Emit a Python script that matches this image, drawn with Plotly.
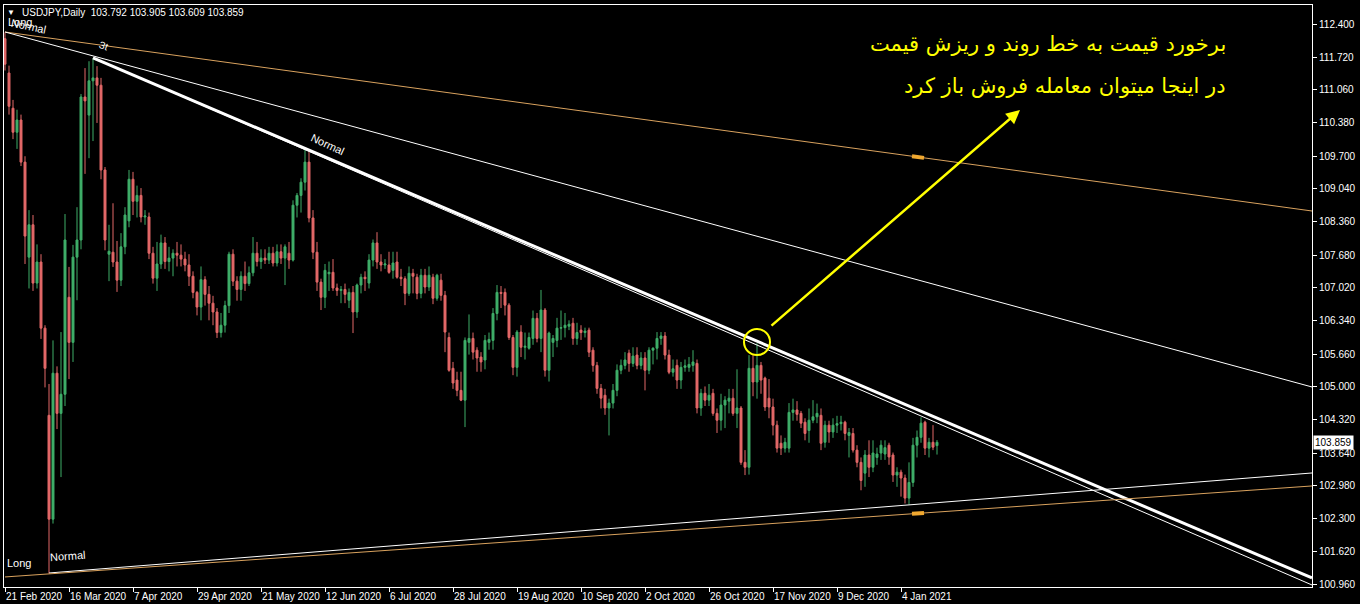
import pandas as pd
import plotly.graph_objects as go

# ---------------- data ----------------
holidays = ["2020-12-25", "2021-01-01"]
dates = [d for d in pd.bdate_range("2020-02-21", "2021-01-15") if d.strftime("%Y-%m-%d") not in holidays]

opens = [
    112.10, 111.40, 110.68, 110.19, 110.44, 109.58, 107.64, 108.30, 107.11, 107.54,
    106.19, 104.41, 102.29, 105.27, 104.45, 104.84, 106.82, 105.90, 107.64, 107.99,
    110.91, 110.54, 111.24, 111.30, 111.15, 109.42, 107.70, 107.74, 107.54, 107.17,
    107.85, 108.38, 109.23, 108.78, 108.90, 108.46, 108.46, 107.72, 107.21, 107.50,
    107.93, 107.55, 107.62, 107.72, 107.68, 107.60, 107.48, 107.25, 106.92, 106.62,
    107.18, 106.88, 106.70, 106.52, 106.10, 106.25, 106.65, 107.70, 107.15, 106.98,
    107.25, 107.10, 107.32, 107.72, 107.55, 107.62, 107.58, 107.72, 107.52, 107.75,
    107.62, 107.72, 107.58, 108.70, 108.90, 109.17, 109.58, 108.44, 107.74, 107.13,
    106.82, 107.30, 107.33, 107.01, 106.96, 106.98, 106.76, 106.92, 106.52, 107.07,
    107.23, 107.11, 107.58, 107.93, 107.54, 107.48, 107.48, 107.37, 107.54, 107.23,
    107.20, 106.90, 107.31, 107.23, 106.90, 107.27, 107.03, 107.23, 106.80, 107.17,
    106.86, 106.00, 105.37, 105.13, 104.92, 104.72, 105.90, 105.98, 105.74, 105.60,
    105.54, 105.90, 105.94, 106.49, 106.92, 106.92, 106.66, 106.00, 105.39, 106.11,
    105.80, 105.78, 105.98, 106.39, 105.98, 106.56, 105.33, 105.90, 105.94, 106.19,
    106.20, 106.23, 106.29, 105.98, 106.15, 106.10, 106.15, 105.74, 105.43, 104.96,
    104.82, 104.56, 104.66, 104.92, 105.33, 105.43, 105.68, 105.47, 105.64, 105.43,
    105.58, 105.33, 105.74, 105.78, 105.98, 106.03, 105.64, 105.29, 105.43, 105.13,
    105.39, 105.39, 105.43, 105.47, 104.56, 104.86, 104.72, 104.86, 104.45, 104.31,
    104.62, 104.70, 104.76, 104.45, 104.56, 103.45, 103.35, 105.37, 105.09, 105.43,
    105.17, 104.76, 104.58, 104.21, 103.84, 103.74, 103.74, 104.47, 104.52, 104.45,
    104.27, 104.10, 104.31, 104.38, 104.41, 103.86, 104.21, 104.07, 104.21, 104.24,
    104.27, 104.00, 104.04, 103.70, 103.45, 103.23, 103.60, 103.35, 103.55, 103.64,
    103.62, 103.80, 103.60, 103.19, 103.25, 103.13, 102.72, 103.04, 103.80, 103.96,
    104.27, 103.74, 103.86, 103.792,
]
highs = [
    112.23, 111.55, 110.85, 110.65, 110.55, 109.70, 108.60, 108.50, 107.90, 107.70,
    106.25, 105.05, 105.94, 105.41, 106.11, 108.52, 107.44, 107.89, 108.66, 110.97,
    111.50, 111.64, 111.70, 111.54, 111.30, 109.48, 108.30, 108.74, 107.97, 108.13,
    108.66, 109.42, 109.38, 109.10, 109.05, 108.60, 108.55, 107.85, 107.95, 108.10,
    108.05, 107.85, 107.80, 107.95, 107.90, 107.75, 107.70, 107.35, 106.95, 107.45,
    107.25, 107.05, 106.85, 106.60, 106.50, 106.75, 107.75, 107.80, 107.25, 107.35,
    107.55, 107.45, 108.05, 107.95, 107.80, 107.80, 107.85, 107.85, 107.90, 107.90,
    107.90, 107.95, 108.80, 108.95, 109.25, 109.83, 109.80, 108.60, 107.95, 107.20,
    107.50, 107.55, 107.60, 107.10, 107.05, 107.10, 107.00, 107.05, 107.10, 107.30,
    107.35, 107.70, 108.00, 108.15, 107.70, 107.60, 107.75, 107.75, 107.75, 107.40,
    107.25, 107.45, 107.40, 107.30, 107.40, 107.40, 107.45, 107.30, 107.30, 107.30,
    106.95, 106.10, 105.50, 105.30, 105.30, 106.00, 106.47, 106.10, 105.80, 105.70,
    106.05, 106.10, 106.60, 107.07, 107.05, 107.00, 106.70, 106.05, 106.15, 106.25,
    106.10, 106.10, 106.55, 106.50, 106.97, 106.60, 106.12, 106.05, 106.40, 106.55,
    106.50, 106.35, 106.40, 106.30, 106.25, 106.20, 106.20, 105.80, 105.50, 105.05,
    104.95, 104.75, 105.05, 105.45, 105.55, 105.70, 105.75, 105.80, 105.80, 105.70,
    105.70, 105.80, 105.80, 106.11, 106.11, 106.11, 105.75, 105.55, 105.55, 105.50,
    105.55, 105.60, 105.74, 105.55, 104.95, 105.00, 105.05, 104.95, 104.55, 104.85,
    104.80, 104.95, 104.95, 105.35, 104.60, 103.70, 105.64, 105.65, 105.88, 105.50,
    105.20, 105.15, 104.75, 104.30, 104.00, 103.95, 104.66, 104.75, 104.70, 104.50,
    104.35, 104.55, 104.72, 104.65, 104.55, 104.30, 104.30, 104.35, 104.40, 104.40,
    104.30, 104.15, 104.15, 103.80, 103.55, 103.70, 103.90, 103.90, 103.75, 103.90,
    103.90, 103.85, 103.65, 103.35, 103.30, 103.20, 103.45, 103.95, 104.10, 104.37,
    104.30, 103.95, 104.21, 103.905,
]
lows = [
    111.45, 110.55, 110.05, 109.85, 109.50, 107.50, 107.00, 106.95, 107.00, 105.97,
    104.98, 101.18, 102.20, 104.13, 103.15, 104.60, 105.15, 105.50, 106.76, 107.80,
    109.34, 109.66, 110.01, 110.38, 109.23, 107.78, 107.15, 107.44, 106.93, 107.05,
    107.70, 108.25, 108.50, 108.45, 108.35, 108.30, 107.60, 107.10, 106.95, 107.40,
    107.40, 107.35, 107.25, 107.45, 107.45, 107.35, 107.05, 106.80, 106.45, 106.35,
    106.65, 106.35, 106.25, 105.99, 106.00, 106.10, 106.50, 107.05, 106.75, 106.75,
    106.95, 107.05, 107.25, 107.45, 107.40, 107.50, 107.50, 107.45, 107.45, 107.50,
    107.07, 107.40, 107.55, 108.45, 108.55, 109.00, 108.35, 107.60, 106.95, 106.56,
    106.60, 106.95, 106.95, 106.85, 106.70, 106.70, 106.60, 106.09, 106.40, 106.90,
    106.95, 107.00, 107.45, 107.40, 107.35, 107.40, 107.30, 107.20, 107.20, 107.05,
    106.66, 106.85, 106.90, 106.78, 106.80, 106.90, 106.95, 106.68, 106.75, 106.75,
    105.70, 105.30, 104.95, 104.80, 104.70, 104.17, 105.65, 105.55, 105.30, 105.30,
    105.35, 105.75, 105.75, 106.35, 106.60, 106.45, 105.95, 105.23, 105.20, 105.60,
    105.55, 105.75, 105.85, 105.90, 105.70, 105.20, 105.10, 105.60, 105.80, 105.95,
    106.00, 106.15, 105.85, 105.85, 105.95, 106.00, 105.60, 105.30, 104.85, 104.55,
    104.42, 104.00, 104.55, 104.80, 105.25, 105.35, 105.30, 105.40, 105.35, 105.35,
    104.92, 105.25, 105.45, 105.55, 105.85, 105.55, 105.25, 105.20, 104.95, 104.95,
    105.30, 105.30, 105.30, 104.45, 104.40, 104.60, 104.60, 104.40, 104.05, 104.10,
    104.15, 104.45, 104.40, 104.15, 103.40, 103.19, 103.20, 104.80, 104.75, 104.85,
    104.50, 104.35, 104.00, 103.65, 103.60, 103.65, 103.65, 104.30, 104.30, 104.15,
    103.90, 103.85, 104.25, 104.25, 103.70, 103.75, 103.85, 103.95, 104.05, 104.10,
    103.90, 103.55, 103.65, 103.35, 102.88, 102.95, 103.15, 103.25, 103.40, 103.50,
    103.50, 103.40, 103.05, 102.95, 102.75, 102.61, 102.59, 102.95, 103.55, 103.85,
    103.60, 103.55, 103.70, 103.609,
]
closes = [
    111.58, 110.72, 110.19, 110.44, 109.58, 108.07, 108.30, 107.11, 107.54, 106.19,
    105.37, 102.29, 105.27, 104.45, 104.84, 107.99, 105.90, 107.64, 107.99, 110.91,
    110.83, 111.24, 111.30, 111.15, 109.42, 107.99, 107.76, 107.54, 107.17, 107.85,
    108.50, 109.23, 108.78, 108.90, 108.46, 108.48, 107.72, 107.21, 107.50, 107.93,
    107.55, 107.62, 107.72, 107.68, 107.60, 107.48, 107.25, 106.92, 106.62, 107.18,
    106.88, 106.70, 106.52, 106.10, 106.25, 106.65, 107.70, 107.15, 106.98, 107.25,
    107.10, 107.32, 107.72, 107.55, 107.62, 107.58, 107.72, 107.52, 107.75, 107.62,
    107.85, 107.58, 108.70, 108.90, 109.17, 109.58, 108.44, 107.74, 107.13, 106.82,
    107.37, 107.33, 107.01, 106.96, 106.98, 106.88, 106.92, 106.52, 107.07, 107.23,
    107.20, 107.58, 107.93, 107.54, 107.48, 107.50, 107.33, 107.52, 107.23, 107.20,
    106.90, 107.31, 107.25, 106.90, 107.27, 107.03, 107.27, 106.80, 107.27, 106.86,
    106.11, 105.33, 105.07, 104.92, 104.72, 105.94, 105.98, 105.70, 105.58, 105.50,
    105.94, 105.96, 106.49, 106.92, 106.90, 106.66, 106.00, 105.39, 106.11, 105.80,
    105.82, 106.00, 106.39, 105.98, 106.56, 105.33, 106.09, 105.98, 106.19, 106.20,
    106.25, 106.27, 105.98, 106.10, 106.10, 106.13, 105.70, 105.43, 104.96, 104.76,
    104.56, 104.66, 104.92, 105.33, 105.43, 105.54, 105.47, 105.62, 105.43, 105.58,
    105.33, 105.74, 105.78, 105.98, 106.03, 105.64, 105.29, 105.36, 105.13, 105.39,
    105.42, 105.45, 105.50, 104.56, 104.86, 104.72, 104.82, 104.45, 104.31, 104.62,
    104.72, 104.76, 104.45, 104.56, 103.45, 103.35, 105.37, 105.09, 105.43, 105.13,
    104.58, 104.58, 104.21, 103.74, 103.74, 103.86, 104.47, 104.52, 104.43, 104.25,
    104.04, 104.31, 104.38, 104.45, 103.84, 104.21, 104.07, 104.21, 104.24, 104.27,
    104.04, 104.06, 103.70, 103.45, 103.08, 103.60, 103.35, 103.64, 103.62, 103.80,
    103.75, 103.56, 103.19, 103.25, 103.13, 102.72, 103.04, 103.80, 103.96, 104.25,
    103.74, 103.86, 103.76, 103.859,
]

# trend-line anchors (bar index, price)
trend_x0 = [0, 0, 22, 22, 11, 0]
trend_y0 = [112.237, 112.237, 111.706, 111.706, 101.191, 101.110]
trend_x1 = [326.75, 326.75, 326.75, 326.75, 326.75, 326.75]
trend_y1 = [108.582, 104.989, 101.089, 100.946, 103.233, 102.968]

price_ticks = [112.40, 111.72, 111.06, 110.38, 109.70, 109.04, 108.36, 107.68, 107.02,
               106.34, 105.66, 105.00, 104.32, 103.64, 102.98, 102.30, 101.62, 100.96]
date_tick_step = 16

# annotation anchors
arrow_tail = (191.25, 106.214)
arrow_head = (253.75, 110.644)
circle_center = (188, 105.907)
last_price = 103.859

# ---------------- styles ----------------
GREEN = "#3fae69"
RED = "#e36868"
ORANGE = "#d9a25e"
WHITE = "#ffffff"
YELLOW = "#ffff00"
trend_colors = [ORANGE, WHITE, WHITE, WHITE, WHITE, ORANGE]
trend_widths = [1, 1, 3, 1, 1, 1]

W, H = 1360, 604
ML, MR, MT, MB = 4, 48, 5, 17
PW, PH = W - ML - MR, H - MT - MB


def pxx(px):
    return (px - ML) / PW


def pxy(py):
    return (H - MB - py) / PH


idx = list(range(len(dates)))
tickvals = idx[::date_tick_step]
ticktext = [f"{dates[i].day} {dates[i].strftime('%b %Y')}" for i in tickvals]

fig = go.Figure()
fig.add_trace(go.Candlestick(
    x=idx, open=opens, high=highs, low=lows, close=closes,
    increasing=dict(line=dict(color=GREEN, width=1), fillcolor=GREEN),
    decreasing=dict(line=dict(color=RED, width=1), fillcolor=RED),
    whiskerwidth=0, showlegend=False,
    text=[d.strftime("%d %b %Y") for d in dates], hoverinfo="text+y",
))

for x0, y0, x1, y1, c, w in zip(trend_x0, trend_y0, trend_x1, trend_y1, trend_colors, trend_widths):
    fig.add_trace(go.Scatter(x=[x0, x1], y=[y0, y1], mode="lines",
                             line=dict(color=c, width=w), showlegend=False, hoverinfo="skip"))

# small anchor marks on the orange channel lines
for k in (0, 5):
    xa, xb = 226.75, 229.75
    def on_line(x):
        return trend_y0[k] + (trend_y1[k] - trend_y0[k]) * (x - trend_x0[k]) / (trend_x1[k] - trend_x0[k])
    fig.add_trace(go.Scatter(x=[xa, xb], y=[on_line(xa), on_line(xb)], mode="lines",
                             line=dict(color="#f0a830", width=4), showlegend=False, hoverinfo="skip"))

fig.add_shape(type="circle", xref="x", yref="y", xsizemode="pixel", ysizemode="pixel",
              xanchor=circle_center[0], yanchor=circle_center[1],
              x0=-13, x1=13, y0=-13, y1=13, line=dict(color=YELLOW, width=2))

LBL = "Liberation Sans, Arial, sans-serif"
FA = "DejaVu Sans, sans-serif"
ann = []
ann.append(dict(x=arrow_head[0], y=arrow_head[1], ax=arrow_tail[0], ay=arrow_tail[1],
                xref="x", yref="y", axref="x", ayref="y", text="", showarrow=True,
                arrowhead=2, arrowsize=1.1, arrowwidth=2.5, arrowcolor=YELLOW))
ann.append(dict(x=pxx(1228), y=pxy(44), xref="paper", yref="paper", xanchor="right", yanchor="middle",
                text="برخورد قیمت به خط روند و ریزش قیمت", showarrow=False,
                font=dict(family=FA, size=21, color=YELLOW)))
ann.append(dict(x=pxx(1228), y=pxy(86), xref="paper", yref="paper", xanchor="right", yanchor="middle",
                text="در اینجا میتوان معامله فروش باز کرد", showarrow=False,
                font=dict(family=FA, size=21, color=YELLOW)))
ann.append(dict(x=pxx(20), y=pxy(13), xref="paper", yref="paper", xanchor="left", yanchor="middle",
                text="USDJPY,Daily  103.792 103.905 103.609 103.859", showarrow=False,
                font=dict(family=LBL, size=10, color=WHITE)))
ann.append(dict(x=pxx(11), y=pxy(13), xref="paper", yref="paper", xanchor="center", yanchor="middle",
                text="▼", showarrow=False, font=dict(family=LBL, size=8, color=WHITE)))
ann.append(dict(x=pxx(6), y=pxy(22), xref="paper", yref="paper", xanchor="left", yanchor="middle",
                text="Long", showarrow=False, font=dict(family=LBL, size=11, color=WHITE)))
ann.append(dict(x=pxx(28), y=pxy(26), xref="paper", yref="paper", xanchor="center", yanchor="middle",
                text="Normal", showarrow=False, textangle=12, font=dict(family=LBL, size=11, color=WHITE)))
ann.append(dict(x=pxx(103), y=pxy(46), xref="paper", yref="paper", xanchor="center", yanchor="middle",
                text="Зt", showarrow=False, textangle=20, font=dict(family=LBL, size=10, color=WHITE)))
ann.append(dict(x=pxx(327), y=pxy(144), xref="paper", yref="paper", xanchor="center", yanchor="middle",
                text="Normal", showarrow=False, textangle=25, font=dict(family=LBL, size=11, color=WHITE)))
ann.append(dict(x=pxx(5), y=pxy(563), xref="paper", yref="paper", xanchor="left", yanchor="middle",
                text="Long", showarrow=False, font=dict(family=LBL, size=11, color=WHITE)))
ann.append(dict(x=pxx(67), y=pxy(556), xref="paper", yref="paper", xanchor="center", yanchor="middle",
                text="Normal", showarrow=False, textangle=-4, font=dict(family=LBL, size=11, color=WHITE)))
ann.append(dict(x=1, y=last_price, xref="paper", yref="y", xanchor="left", yanchor="middle", xshift=1,
                text=f"{last_price:.3f}", showarrow=False, bgcolor=WHITE, borderpad=1,
                font=dict(family=LBL, size=10, color="#000000")))

fig.update_layout(
    width=W, height=H,
    margin=dict(l=ML, r=MR, t=MT, b=MB, autoexpand=False),
    paper_bgcolor="#000000", plot_bgcolor="#000000",
    showlegend=False, annotations=ann, boxgap=0.3,
    font=dict(family=LBL, size=10, color=WHITE),
    xaxis=dict(range=[-0.25, 326.75], tickvals=tickvals, ticktext=ticktext, tickangle=0,
               ticks="outside", ticklen=4, tickcolor=WHITE, ticklabelposition="outside right",
               ticklabelstandoff=0,
               showline=True, linecolor=WHITE, linewidth=1, mirror=True,
               showgrid=False, zeroline=False, rangeslider=dict(visible=False),
               tickfont=dict(family=LBL, size=10, color=WHITE), fixedrange=True),
    yaxis=dict(range=[100.905, 112.788], side="right", tickvals=price_ticks,
               ticktext=[f"{v:.3f}" for v in price_ticks],
               ticks="outside", ticklen=4, tickcolor=WHITE,
               showline=True, linecolor=WHITE, linewidth=1, mirror=True,
               showgrid=False, zeroline=False,
               tickfont=dict(family=LBL, size=10, color=WHITE), fixedrange=True),
)

fig.write_html(
    "out.html",
    config={"displayModeBar": False},
    post_script="document.body.style.margin='0';document.body.style.padding='0';"
                "document.body.style.background='#000';",
)
